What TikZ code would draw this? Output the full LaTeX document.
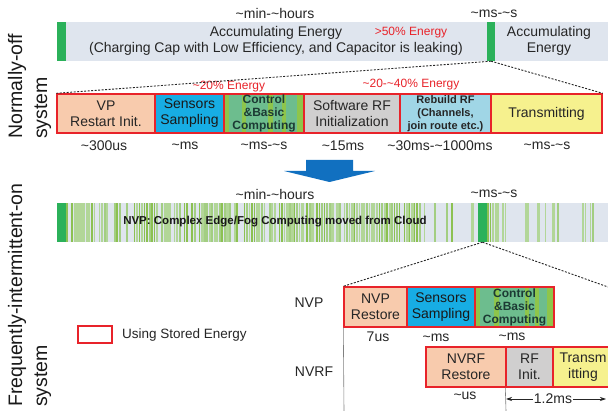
\documentclass[tikz,border=0pt]{standalone}
\usepackage{fontspec}
\setmainfont{Liberation Sans}
\usetikzlibrary{arrows.meta}
\definecolor{myred}{HTML}{E8232A}
\definecolor{peach}{HTML}{F8CBAD}
\definecolor{sensblue}{HTML}{17ADE4}
\definecolor{rfgray}{HTML}{D0CFCF}
\definecolor{rebuild}{HTML}{A0D6E6}
\definecolor{txyellow}{HTML}{F6F18E}
\definecolor{barbg}{HTML}{DFE5EE}
\definecolor{gstripc}{HTML}{2BB15A}
\definecolor{stA}{HTML}{B2D698}
\definecolor{stB}{HTML}{A3CE82}
\definecolor{stC}{HTML}{8CC152}
\definecolor{ctlbase}{HTML}{6DBD8E}
\definecolor{ctlstripe}{HTML}{8EC54B}
\definecolor{ctltext}{HTML}{1C3A34}
\definecolor{arrowblue}{HTML}{1170C0}
\newcommand\mystripes[4]{% start x, count, max random, y top
  \foreach \k in {0,...,#2} {
    \pgfmathsetmacro{\sx}{#1+2.5*\k}
    \pgfmathrandominteger{\rr}{0}{#3}
    \ifcase\rr
      \fill[stA] (\sx,#4) rectangle ++(2.5,39);
    \or
      \fill[stB] (\sx,#4) rectangle ++(2,39);
    \or
      \fill[stC] (\sx,#4) rectangle ++(1.5,39);
    \or
      \fill[stA] (\sx,#4) rectangle ++(1.5,39);
    \else
    \fi
  }}
\tikzset{
  lbl/.style={inner sep=0pt, text=black!85, font=\fontsize{14}{16}\selectfont, align=center},
  redlbl/.style={inner sep=0pt, text=myred, font=\fontsize{12}{14}\selectfont},
  tbox/.style={draw=myred, line width=1.4pt, inner sep=0pt, align=center, text=black!85,
               font=\fontsize{14}{16}\selectfont},
  gstrip/.style={fill=gstripc, inner sep=0pt, minimum height=39pt},
  dotline/.style={line width=0.9pt, dash pattern=on 2pt off 1.5pt, black!85},
  boldtxt/.style={font=\bfseries\fontsize{11}{13}\selectfont},
  ctltxt/.style={inner sep=0pt, align=center, text=ctltext, font=\bfseries\fontsize{12}{13}\selectfont},
  sidelbl/.style={rotate=90, anchor=west, inner sep=0pt, align=left, text=black!90,
                  font=\fontsize{19.5}{25}\selectfont},
  vline/.style={gray, line width=0.6pt},
}
\begin{document}
\begin{tikzpicture}[x=1pt,y=-1pt]
\useasboundingbox (0,0) rectangle (608,411);
\fill[white] (0,0) rectangle (608,411);

% ---------- side labels
\node[sidelbl] (nofflbl) at (29.5,139) {Normally-off\\system};
\node[sidelbl] (fiolbl) at (29.5,407) {Frequently-intermittent-on\\system};

% ---------- top bar
\fill[barbg] (57,22) rectangle (608,61);
\node[gstrip, minimum width=8.5pt] (g0) at (61.5,41.5) {};
\node[gstrip, minimum width=8pt] (g1) at (491,41.5) {};
\node[lbl] (top1) at (275,14) {\textasciitilde min-\textasciitilde hours};
\node[lbl] (top2) at (494,14) {\textasciitilde ms-\textasciitilde s};
\node[lbl] (acc) at (276,41) {Accumulating Energy\\(Charging Cap with Low Efficiency, and Capacitor is leaking)};
\node[redlbl] (e50) at (411,33) {>50\% Energy};
\node[lbl] (acc2) at (549,41) {Accumulating\\Energy};

% ---------- normally-off row
\node[tbox, fill=peach, minimum width=98pt, minimum height=39pt] (vp) at (106,113.5) {VP\\Restart Init.};
\node[tbox, fill=sensblue, text=black!90, minimum width=69pt, minimum height=39pt] (sens) at (189.5,113.5) {Sensors\\Sampling};
\fill[ctlbase] (224,94) rectangle (304,133);
\foreach \a/\b in {224/229,242/246,268/273,282/286,297/304}
  \fill[ctlstripe] (\a,94) rectangle (\b,133);
\node[tbox, minimum width=80pt, minimum height=39pt] (ctl) at (264,113.5) {};
\node[ctltxt] (ctltx) at (264,113) {Control\\\&Basic\\Computing};
\node[tbox, fill=rfgray, minimum width=96pt, minimum height=39pt] (swrf) at (352,113.5) {Software RF\\Initialization};
\node[tbox, fill=rebuild, boldtxt, minimum width=91pt, minimum height=39pt] (rb) at (445.5,113.5) {Rebuild RF\\(Channels,\\join route etc.)};
\node[tbox, fill=txyellow, minimum width=111pt, minimum height=39pt] (tx) at (546.5,113.5) {Transmitting};

\node[redlbl] (e20) at (229,87) {\textasciitilde 20\% Energy};
\node[redlbl] (e2040) at (411,85) {\textasciitilde 20-\textasciitilde 40\% Energy};

\node[lbl] (t1) at (104,146) {\textasciitilde 300us};
\node[lbl] (t2) at (185,146) {\textasciitilde ms};
\node[lbl] (t3) at (264,146) {\textasciitilde ms-\textasciitilde s};
\node[lbl] (t4) at (343,146) {\textasciitilde 15ms};
\node[lbl] (t5) at (440,146) {\textasciitilde 30ms-\textasciitilde 1000ms};
\node[lbl] (t6) at (547,146) {\textasciitilde ms-\textasciitilde s};

\draw[dotline] (g1.south) -- (vp.north west);
\draw[dotline] (g1.south) -- (tx.north east);

% ---------- blue arrow
\fill[arrowblue] (306,160) -- (353,160) -- (353,171) -- (375,171) -- (329.5,182) -- (284,171) -- (306,171) -- cycle;

% ---------- striped bar
\node[lbl] (bot1) at (275,194) {\textasciitilde min-\textasciitilde hours};
\node[lbl] (bot2) at (494,194) {\textasciitilde ms-\textasciitilde s};
\fill[barbg] (57,203) rectangle (608,242);
\pgfmathsetseed{4242}
\mystripes{66}{143}{4}{203}
\mystripes{426}{20}{7}{203}
\mystripes{487}{7}{5}{203}
\mystripes{522}{15}{5}{203}
\mystripes{582}{5}{5}{203}
\node[gstrip, minimum width=9pt] (g2b) at (61.5,222.5) {};
\node[gstrip, minimum width=9pt] (g2) at (482.5,222.5) {};
\node[inner sep=0pt, text=black!90, font=\bfseries\fontsize{11.5}{13}\selectfont] (nvptxt) at (275,222)
  {NVP: Complex Edge/Fog Computing moved from Cloud};

% ---------- NVP row
\node[tbox, fill=peach, minimum width=63pt, minimum height=40pt] (nvpr) at (375.5,307) {NVP\\Restore};
\node[tbox, fill=sensblue, text=black!90, minimum width=68pt, minimum height=40pt] (sens2) at (441,307) {Sensors\\Sampling};
\fill[ctlbase] (475,287) rectangle (554,327);
\foreach \a/\b in {475/480,494/499,525/529,535/539,547/554}
  \fill[ctlstripe] (\a,287) rectangle (\b,327);
\node[tbox, minimum width=79pt, minimum height=40pt] (ctl2) at (514.5,307) {};
\node[ctltxt] (ctl2tx) at (514.5,307) {Control\\\&Basic\\Computing};
\node[lbl] (nvplbl) at (309,303) {NVP};
\node[lbl] (u1) at (378,337) {7us};
\node[lbl] (u2) at (436,338) {\textasciitilde ms};
\node[lbl] (u3) at (512,337) {\textasciitilde ms};

\coordinate (rend) at (608,287);
\draw[dotline] (g2.south) -- (nvpr.north west);
\draw[dotline] (g2.south) -- (rend);

% ---------- NVRF row
\node[tbox, fill=peach, minimum width=80pt, minimum height=40pt] (nvrf) at (466,367) {NVRF\\Restore};
\node[tbox, fill=rfgray, minimum width=47pt, minimum height=40pt] (rfi) at (529.5,367) {RF\\Init.};
\node[tbox, fill=txyellow, minimum width=60pt, minimum height=40pt] (tx2) at (583,367) {Transm\\itting};
\node[lbl] (nvrflbl) at (314,372) {NVRF};
\node[lbl] (u4) at (465,396) {\textasciitilde us};

\coordinate (v1) at (344,411);
\coordinate (v2) at (506,411);
\draw[vline] (nvpr.south west) -- (v1);
\draw[vline] (rfi.south west) -- (v2);
\coordinate (d1) at (506,399);
\coordinate (d2) at (606,399);
\draw[line width=0.7pt, black!85, {Stealth[length=6pt,width=4pt]}-{Stealth[length=6pt,width=4pt]}] (d1) -- (d2);
\node[lbl, fill=white, inner xsep=1pt] (dim) at (553,399) {1.2ms};

% ---------- legend
\node[draw=myred, line width=1.4pt, fill=white, minimum width=34pt, minimum height=17pt, inner sep=0pt] (leg) at (95,334.5) {};
\node[lbl, anchor=west, font=\fontsize{13.5}{16}\selectfont] (legtxt) at (122,335) {Using Stored Energy};
\end{tikzpicture}
\end{document}
